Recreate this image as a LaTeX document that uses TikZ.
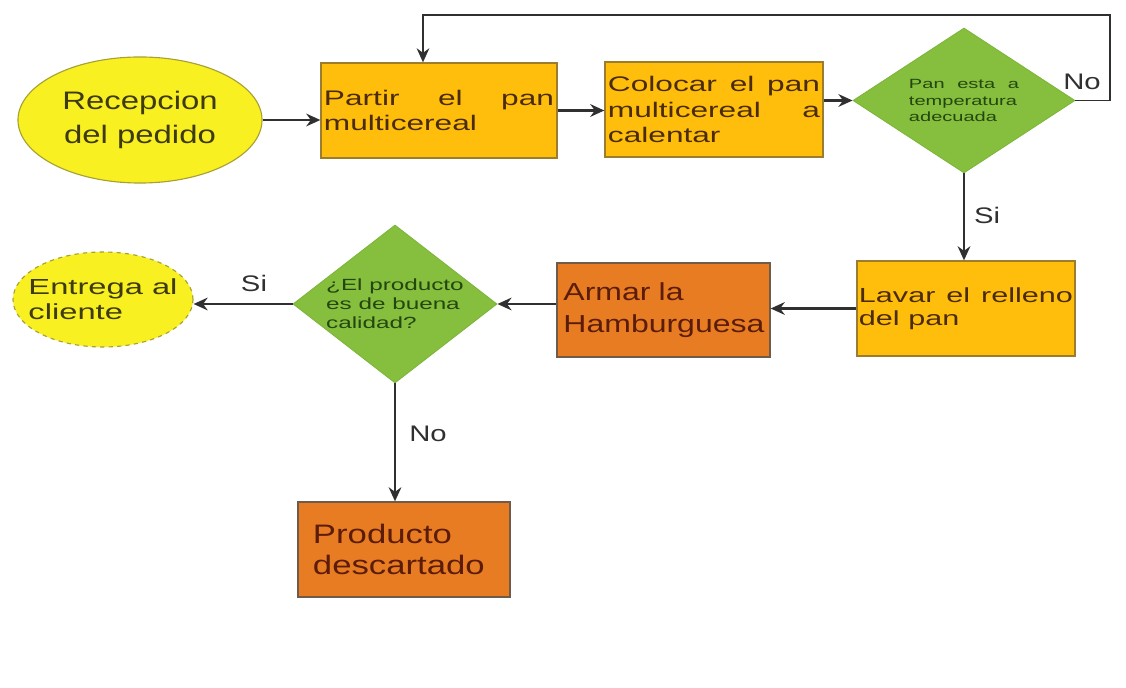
\documentclass[tikz,border=0pt]{standalone}
\usepackage{fontspec}
\setmainfont{Liberation Sans}
\newfontfamily\widesf{Liberation Sans}[FakeStretch=1.3]
\newfontfamily\widersf{Liberation Sans}[FakeStretch=1.5]
\definecolor{fcYellow}{HTML}{F8F020}
\definecolor{fcYellowEdge}{HTML}{A7A033}
\definecolor{fcYellowText}{HTML}{3E3A12}
\definecolor{fcGold}{HTML}{FFBD0C}
\definecolor{fcGoldEdge}{HTML}{9C7D2E}
\definecolor{fcGoldText}{HTML}{4A2C0A}
\definecolor{fcOrange}{HTML}{E87C22}
\definecolor{fcOrangeEdge}{HTML}{6F5B4A}
\definecolor{fcOrangeText}{HTML}{5C1C0A}
\definecolor{fcGreen}{HTML}{86BE3E}
\definecolor{fcGreenEdge}{HTML}{7DB53A}
\definecolor{fcGreenText}{HTML}{24460F}
\definecolor{fcLine}{HTML}{303030}
\usetikzlibrary{arrows.meta,shapes.geometric}

\begin{document}
\begin{tikzpicture}[x=0.025cm, y=-0.025cm,
  startend/.style={ellipse, draw=fcYellowEdge, fill=fcYellow, text=fcYellowText, inner sep=0pt, line width=0.8pt},
  task/.style={rectangle, draw=fcGoldEdge, fill=fcGold, text=fcGoldText, line width=0.9pt, minimum height=2.375cm, inner xsep=0.075cm, align=justify, font=\widersf\fontsize{15}{18}\selectfont},
  bigtask/.style={rectangle, draw=fcOrangeEdge, fill=fcOrange, text=fcOrangeText, line width=0.9pt, align=left},
  check/.style={diamond, draw=fcGreenEdge, fill=fcGreen, text=fcGreenText, line width=0.6pt},
  flow/.style={draw=fcLine, line width=1.7pt, -{Stealth[length=10pt,width=9pt]}},
  answer/.style={text=fcLine, font=\widesf\fontsize{16}{18}\selectfont}
]
  \useasboundingbox (0,0) rectangle (1126,688);
  % top row
  \node[startend, minimum width=6.1cm, minimum height=3.15cm, align=center, font=\widesf\fontsize{18}{23.7}\selectfont] (rec) at (140,120) {Recepcion\\del pedido};
  \node[task, minimum width=5.9cm, text width=5.75cm] (partir) at (439,110.5) {Partir el pan multicereal};
  \node[task, minimum width=5.45cm, text width=5.3cm] (colocar) at (714,109.5) {Colocar el pan multicereal a calentar};
  \node[check, minimum width=5.55cm, minimum height=3.625cm, aspect=1.53, inner sep=0pt, text width=2.75cm, align=justify, font=\widersf\fontsize{9.5}{11.4}\selectfont] (temp) at (964,100.5) {Pan esta a temperatura adecuada};
  % middle row
  \node[task, minimum width=5.45cm, text width=5.35cm, inner xsep=0.05cm, font=\widersf\fontsize{14.5}{16.5}\selectfont] (lavar) at (966,308.5) {Lavar el relleno del pan};
  \node[bigtask, minimum width=5.325cm, minimum height=2.35cm, text width=5.0cm, inner xsep=0.16cm, font=\widesf\fontsize{17.5}{23}\selectfont] (armar) at (663.5,310) {Armar la\\Hamburguesa};
  \node[check, minimum width=5.1cm, minimum height=3.95cm, aspect=1.29, inner sep=-0.1cm, align=left, font=\widersf\fontsize{11.5}{13.5}\selectfont] (calidad) at (395,304) {¿El producto\\es de buena\\calidad?};
  \node[startend, dashed, minimum width=4.5cm, minimum height=2.375cm, inner xsep=-0.28cm, align=left, font=\widersf\fontsize{15.5}{18}\selectfont] (entrega) at (103,299.5) {Entrega al\\cliente};
  % bottom
  \node[bigtask, minimum width=5.3cm, minimum height=2.375cm, text width=4.55cm, inner xsep=0.375cm, font=\widesf\fontsize{19}{22}\selectfont] (descarte) at (404,549.5) {Producto\\descartado};
  % connectors
  \draw[flow] (rec.east) -- (rec.east -| partir.west);
  \draw[flow] (partir.east) -- (partir.east -| colocar.west);
  \draw[flow] (temp.west -| colocar.east) -- (temp.west);
  \coordinate (loopTop) at (1110,15);
  \draw[flow, line width=1.4pt] (temp.east) -| (loopTop) -| ([xshift=-0.4cm]partir.north);
  \draw[flow] (temp.south) -- (temp.south |- lavar.north);
  \draw[flow] (lavar.west) -- (lavar.west -| armar.east);
  \draw[flow] (calidad.east -| armar.west) -- (calidad.east);
  \draw[flow] (calidad.west) -- (calidad.west -| entrega.east);
  \draw[flow] (calidad.south) -- (calidad.south |- descarte.north);
  % answers
  \node[answer] (noTemp) at (1082,82) {No};
  \node[answer] (siTemp) at (987,215) {Si};
  \node[answer] (siCal) at (254,283) {Si};
  \node[answer] (noCal) at (428,434) {No};
\end{tikzpicture}
\end{document}
